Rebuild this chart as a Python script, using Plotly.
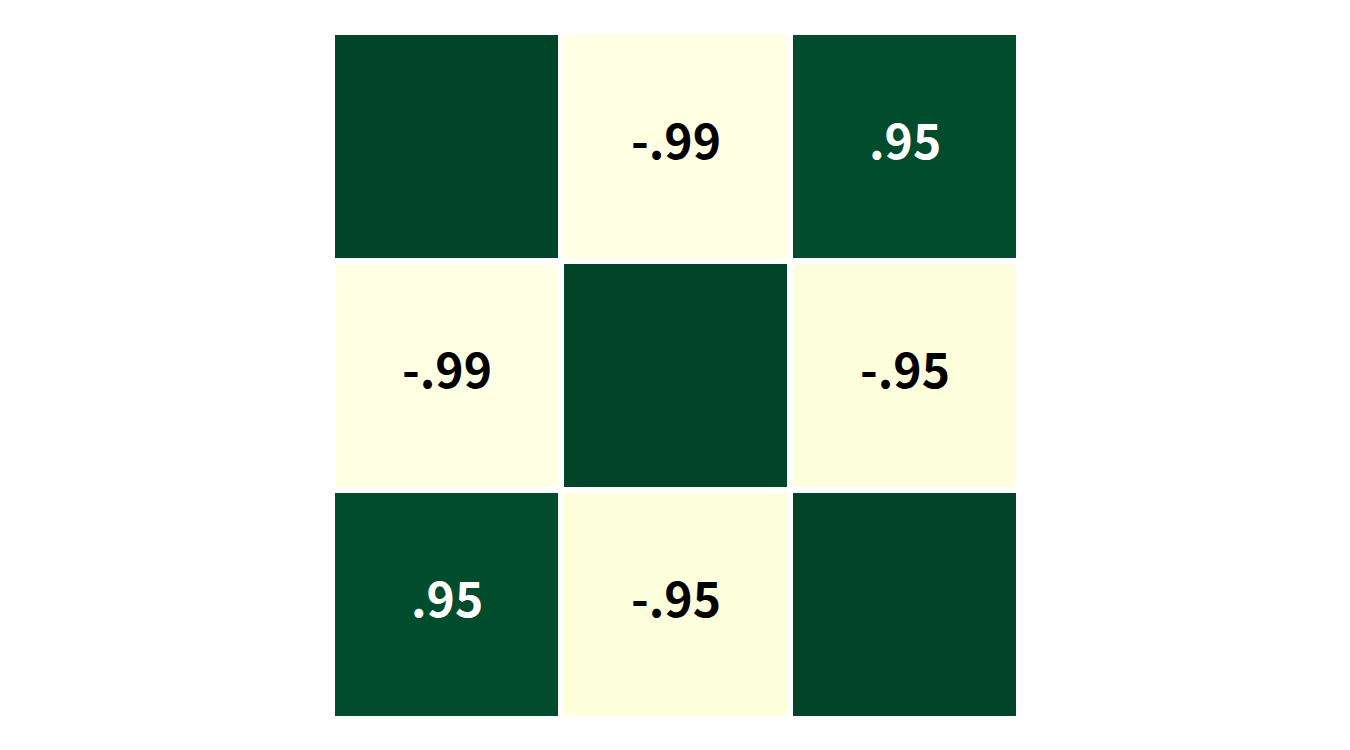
import plotly.graph_objects as go

variables = ["A", "B", "C"]
corr = [
    [1.0, -0.99, 0.95],
    [-0.99, 1.0, -0.95],
    [0.95, -0.95, 1.0],
]
labels = [
    ["", "-.99", ".95"],
    ["-.99", "", "-.95"],
    [".95", "-.95", ""],
]

fig = go.Figure(
    go.Heatmap(
        z=corr,
        x=variables,
        y=variables,
        colorscale="YlGn",
        zmin=-1,
        zmax=1,
        xgap=6,
        ygap=6,
        showscale=False,
        hoverinfo="skip",
    )
)

annotations = []
for i, row in enumerate(labels):
    for j, lab in enumerate(row):
        if not lab:
            continue
        annotations.append(
            dict(
                x=variables[j],
                y=variables[i],
                text=lab,
                showarrow=False,
                yshift=9,
                font=dict(
                    family="Noto Sans CJK JP",
                    size=48,
                    weight="bold",
                    color="white" if corr[i][j] > 0 else "black",
                ),
            )
        )

fig.update_layout(
    width=1350,
    height=750,
    margin=dict(l=332, r=331, t=32, b=31),
    paper_bgcolor="white",
    plot_bgcolor="white",
    xaxis=dict(visible=False),
    yaxis=dict(visible=False, autorange="reversed"),
    annotations=annotations,
)
fig.write_html("out.html")
